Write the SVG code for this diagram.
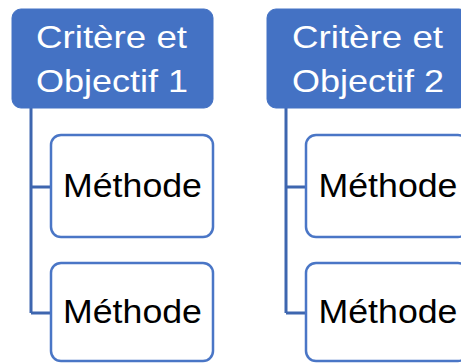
<svg xmlns="http://www.w3.org/2000/svg" width="461" height="363" viewBox="0 0 461 363">
<style>
.hdr{fill:#4472C4;stroke:#4472C4;stroke-width:1}
.child{fill:#fff;stroke:#4A76C6;stroke-width:2.5}
.ht{font-family:"Liberation Sans",Arial,sans-serif;font-size:32px;fill:#fff;text-anchor:middle}
.ct{font-family:"Liberation Sans",Arial,sans-serif;font-size:33px;fill:#000;text-anchor:middle}
.conn{fill:none;stroke:#3E66AF;stroke-width:3}
</style>
<rect width="461" height="363" fill="#fff"/>
<g id="connectors">
<path class="conn" d="M31,108 V313 M31,187 H51 M31,313 H51"/>
<path class="conn" d="M286,108 V313 M286,187 H306 M286,313 H306"/>
</g>
<g id="h1">
<rect class="hdr" x="12" y="9" width="201" height="99" rx="9"/>
<text class="ht" x="111.5" y="48" textLength="151" lengthAdjust="spacingAndGlyphs">Critère et</text>
<text class="ht" x="112" y="92" textLength="152" lengthAdjust="spacingAndGlyphs">Objectif 1</text>
</g>
<g id="h2">
<rect class="hdr" x="267" y="9" width="201" height="99" rx="9"/>
<text class="ht" x="367.5" y="48" textLength="151" lengthAdjust="spacingAndGlyphs">Critère et</text>
<text class="ht" x="368" y="92" textLength="152" lengthAdjust="spacingAndGlyphs">Objectif 2</text>
</g>
<g id="c1a">
<rect class="child" x="51" y="135" width="162" height="102" rx="10"/>
<text class="ct" x="132.5" y="197" textLength="139" lengthAdjust="spacingAndGlyphs">Méthode</text>
</g>
<g id="c1b">
<rect class="child" x="51" y="263" width="162" height="98" rx="10"/>
<text class="ct" x="132.5" y="323" textLength="139" lengthAdjust="spacingAndGlyphs">Méthode</text>
</g>
<g id="c2a">
<rect class="child" x="306" y="135" width="162" height="102" rx="10"/>
<text class="ct" x="388" y="197" textLength="139" lengthAdjust="spacingAndGlyphs">Méthode</text>
</g>
<g id="c2b">
<rect class="child" x="306" y="263" width="162" height="98" rx="10"/>
<text class="ct" x="388" y="323" textLength="139" lengthAdjust="spacingAndGlyphs">Méthode</text>
</g>
</svg>
